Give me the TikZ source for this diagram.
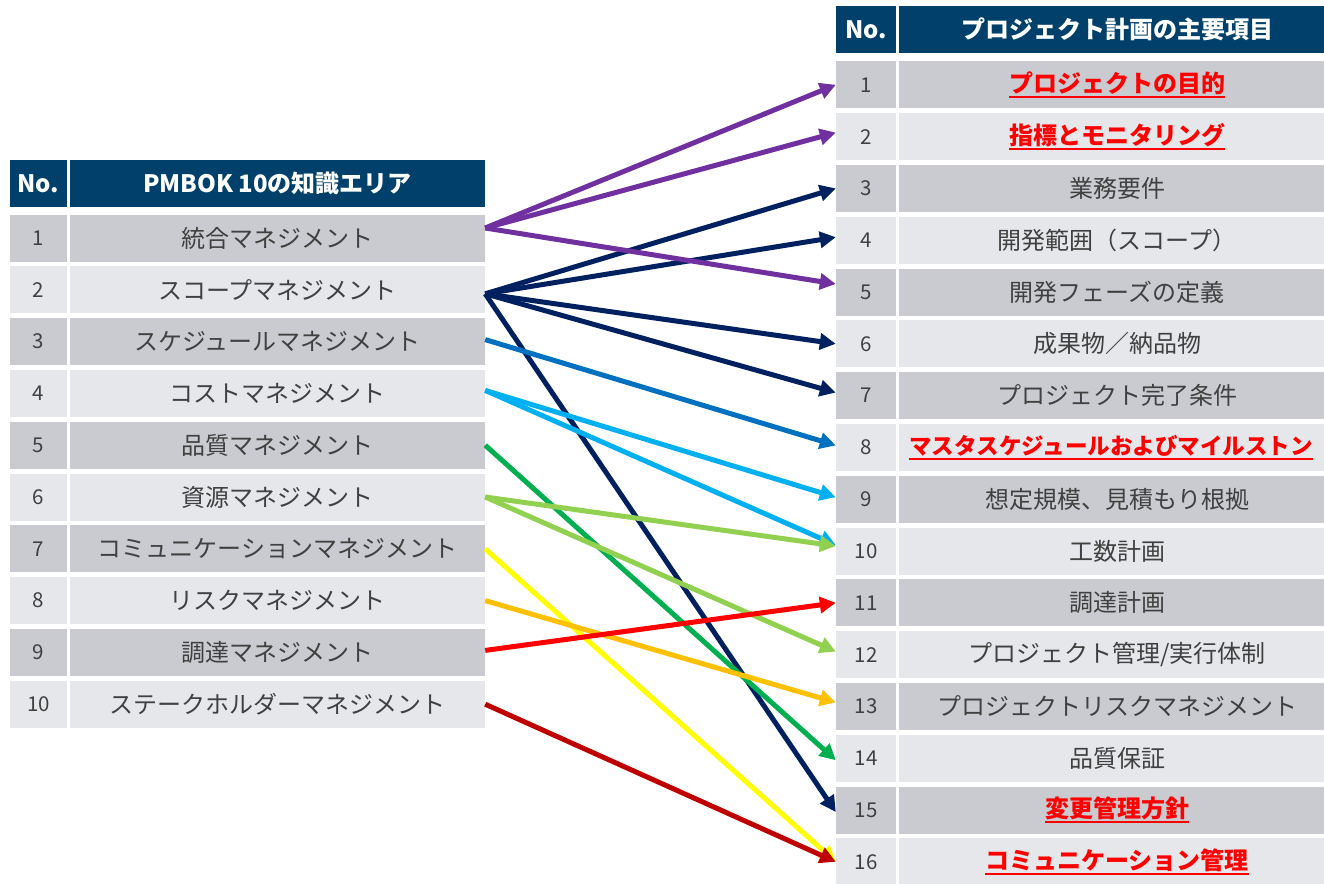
\documentclass[tikz,border=0pt]{standalone}
\usepackage{fontspec}
\setmainfont{Noto Sans CJK JP}
\usetikzlibrary{arrows.meta,calc}
\definecolor{hdr}{HTML}{00406A}
\definecolor{rowd}{HTML}{C9CBD0}
\definecolor{rowl}{HTML}{E6E7EB}
\definecolor{txt}{HTML}{404040}
\definecolor{cpurple}{HTML}{7030A0}
\definecolor{cnavy}{HTML}{002060}
\definecolor{cblue}{HTML}{0070C0}
\definecolor{clblue}{HTML}{00B0F0}
\definecolor{cgreen}{HTML}{00B050}
\definecolor{clgreen}{HTML}{92D050}
\definecolor{cyellow}{HTML}{FFFF00}
\definecolor{corange}{HTML}{FFC000}
\definecolor{cred}{HTML}{FF0000}
\definecolor{cdred}{HTML}{C00000}
\newsavebox\ulbox
\newcommand\ulr[1]{\sbox\ulbox{#1}\rlap{\rule[-6pt]{\wd\ulbox}{2pt}}\usebox\ulbox}
\newcommand\hlt[1]{{\color{cred}\bfseries\ulr{#1}}}
\tikzset{
  cell/.style={inner sep=0pt, minimum height=47pt, text=txt, font=\fontsize{24}{28}\selectfont},
  numcell/.style={cell, font=\fontsize{20.5}{24}\selectfont},
  hcell/.style={inner sep=0pt, minimum height=47pt, fill=hdr, text=white, font=\bfseries\fontsize{24}{28}\selectfont},
  lno/.style={minimum width=57pt},
  lct/.style={minimum width=415pt},
  rno/.style={minimum width=60pt},
  rct/.style={minimum width=436pt},
  arr/.style={line width=5pt, -{Triangle[length=16pt,width=16pt]}}
}
\begin{document}
\begin{tikzpicture}[x=1pt,y=-1pt]
\clip (0,0) rectangle (1324,883);
\fill[white] (0,0) rectangle (1324,883);
% left table
\node[hcell, lno] (lhn) at (38.5,183.5) {No.};
\node[hcell, lct] (lhc) at (277.5,183.5) {PMBOK 10の知識エリア};
\foreach \t [count=\i] in {統合マネジメント,スコープマネジメント,スケジュールマネジメント,コストマネジメント,品質マネジメント,資源マネジメント,コミュニケーションマネジメント,リスクマネジメント,調達マネジメント,ステークホルダーマネジメント}{
  \pgfmathsetmacro\yy{238+51.8*(\i-1)}
  \ifodd\i\relax\def\rf{rowd}\else\def\rf{rowl}\fi
  \node[numcell, lno, fill=\rf] (ln\i) at (38.5,\yy) {\i};
  \node[cell, lct, fill=\rf] (l\i) at (277.5,\yy) {\t};
}
% right table
\node[hcell, rno] (rhn) at (866,29.5) {No.};
\node[hcell, rct] (rhc) at (1117,29.5) {プロジェクト計画の主要項目};
\foreach \t [count=\i] in {{\hlt{プロジェクトの目的}},{\hlt{指標とモニタリング}},業務要件,開発範囲（スコープ）,開発フェーズの定義,成果物／納品物,プロジェクト完了条件,{\hspace*{-12pt}\fontsize{22.5}{26}\selectfont\hlt{マスタスケジュールおよびマイルストン}},想定規模、見積もり根拠,工数計画,調達計画,プロジェクト管理/実行体制,プロジェクトリスクマネジメント,品質保証,{\hlt{変更管理方針}},{\hlt{コミュニケーション管理}}}{
  \pgfmathsetmacro\yy{84.8+51.8*(\i-1)}
  \ifodd\i\relax\def\rf{rowd}\else\def\rf{rowl}\fi
  \node[numcell, rno, fill=\rf] (rn\i) at (866,\yy) {\i};
  \node[cell, rct, fill=\rf] (r\i) at (1117,\yy) {\t};
}
% connectors
\draw[arr, cnavy] ($(l2.east)+(0,4)$) -- (rn3.west);
\draw[arr, cnavy] ($(l2.east)+(0,4)$) -- ($(rn4.west)+(0,-3)$);
\draw[arr, cnavy] ($(l2.east)+(0,4)$) -- (rn6.west);
\draw[arr, cnavy] ($(l2.east)+(0,4)$) -- ($(rn7.west)+(0,-3)$);
\draw[arr, cnavy] ($(l2.east)+(0,4)$) -- ($(rn15.west)+(0,2)$);
\draw[arr, cpurple] ($(l1.east)+(0,-10)$) -- (rn1.west);
\draw[arr, cpurple] ($(l1.east)+(0,-10)$) -- ($(rn2.west)+(0,-4)$);
\draw[arr, cpurple] ($(l1.east)+(0,-10)$) -- ($(rn5.west)+(0,-8)$);
\draw[arr, cblue] ($(l3.east)+(0,-2)$) -- ($(rn8.west)+(0,-2)$);
\draw[arr, clblue] ($(l4.east)+(0,-3)$) -- ($(rn9.west)+(0,-2)$);
\draw[arr, clblue] ($(l4.east)+(0,-3)$) -- ($(rn10.west)+(0,-6)$);
\draw[arr, cgreen] (l5.east) -- ($(rn14.west)+(0,2)$);
\draw[arr, clgreen] (l6.east) -- ($(rn10.west)+(0,-5)$);
\draw[arr, clgreen] (l6.east) -- ($(rn12.west)+(0,-3)$);
\draw[arr, cyellow] (l7.east) -- (rn16.west);
\draw[arr, corange] (l8.east) -- ($(rn13.west)+(0,-4)$);
\draw[arr, cred] ($(l9.east)+(0,-2)$) -- (rn11.west);
\draw[arr, cdred] (l10.east) -- (rn16.west);
\end{tikzpicture}
\end{document}
